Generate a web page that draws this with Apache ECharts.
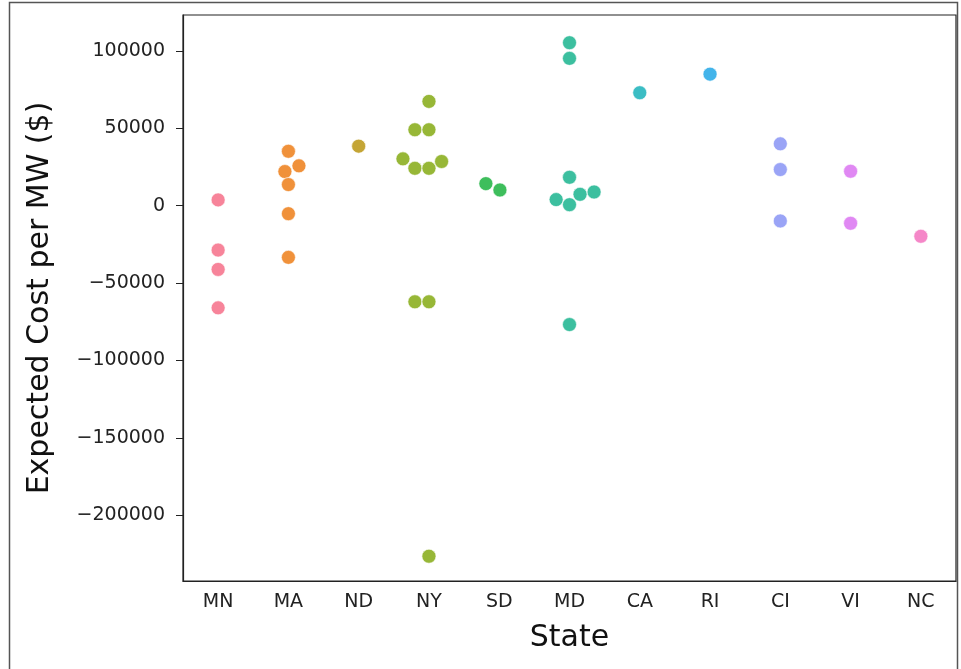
<!DOCTYPE html>
<html>
<head>
<meta charset="utf-8">
<script src="https://cdn.jsdelivr.net/npm/echarts@6/dist/echarts.min.js"></script>
<style>
  html, body { margin: 0; padding: 0; background: #fff; }
  #chart { width: 961px; height: 669px; }
</style>
</head>
<body>
<div id="chart"></div>
<script>
// states on the x axis
var states = ['MN', 'MA', 'ND', 'NY', 'SD', 'MD', 'CA', 'RI', 'CI', 'VI', 'NC'];
var stateColors = ['#f7849a', '#f0913a', '#c4a535', '#97b737', '#3ebe5c', '#3cbf9f',
                   '#3bbdc4', '#43b4ea', '#9aa4f6', '#e088f3', '#f587c8'];

// expected cost per MW, one list per state
var costMN = [3700, -28700, -41200, -66000];
var costMA = [35100, 25700, 22000, 13600, -5200, -33400];
var costND = [38400];
var costNY = [67300, 49000, 49000, 30200, 24100, 24100, 28500, -62100, -62100, -226400];
var costSD = [14200, 10100];
var costMD = [105200, 95100, 18300, 3900, 600, 7300, 8800, -76800];
var costCA = [72900];
var costRI = [84900];
var costCI = [39900, 23300, -9900];
var costVI = [22200, -11400];
var costNC = [-19800];

// swarm offsets (in category widths), same order as the lists above
var swarmMN = [0, 0, 0, 0];
var swarmMA = [0, 0.15, -0.05, 0, 0, 0];
var swarmND = [0];
var swarmNY = [0, -0.2, 0, -0.37, -0.2, 0, 0.18, -0.2, 0, 0];
var swarmSD = [-0.19, 0.01];
var swarmMD = [0, 0, 0, -0.19, 0, 0.15, 0.35, 0];
var swarmCA = [0];
var swarmRI = [0];
var swarmCI = [0, 0, 0];
var swarmVI = [0, 0];
var swarmNC = [0];

var yTicks = [-200000, -150000, -100000, -50000, 0, 50000, 100000];

var costs = [costMN, costMA, costND, costNY, costSD, costMD, costCA, costRI, costCI, costVI, costNC];
var swarms = [swarmMN, swarmMA, swarmND, swarmNY, swarmSD, swarmMD, swarmCA, swarmRI, swarmCI, swarmVI, swarmNC];

var series = states.map(function (s, i) {
    return {
        name: s,
        type: 'scatter',
        xAxisIndex: 1,
        symbolSize: 14,
        itemStyle: { color: stateColors[i], borderColor: '#ffffff', borderWidth: 0.6, opacity: 1 },
        data: costs[i].map(function (v, j) { return [i + swarms[i][j], v]; })
    };
});

var fmt = function (v) { return String(v).replace('-', '\u2212'); };

var myChart = echarts.init(document.getElementById('chart'));
var option = {
    animation: false,
    textStyle: { fontFamily: 'DejaVu Sans' },
    grid: {
        left: 183, right: 5, top: 15, bottom: 88,
        show: true, borderColor: '#222', borderWidth: 1.2, backgroundColor: 'transparent'
    },
    graphic: [{
        type: 'rect',
        shape: { x: 9.5, y: 2.5, width: 948, height: 700 },
        style: { fill: 'none', stroke: '#555', lineWidth: 1.5 },
        silent: true
    }],
    xAxis: [{
        type: 'category',
        data: states,
        boundaryGap: true,
        name: 'State',
        nameLocation: 'middle',
        nameGap: 42,
        nameTextStyle: { fontSize: 30, color: '#111', fontFamily: 'DejaVu Sans' },
        axisLine: { onZero: false, lineStyle: { color: '#222', width: 1.2 } },
        axisTick: { alignWithLabel: true, length: 7, lineStyle: { color: '#222' } },
        axisLabel: { fontSize: 19, color: '#222', margin: 12 },
        splitLine: { show: false }
    }, {
        type: 'value',
        min: -0.5,
        max: 10.5,
        show: false
    }],
    yAxis: {
        type: 'value',
        min: -242400,
        max: 123100,
        name: 'Expected Cost per MW ($)',
        nameLocation: 'middle',
        nameGap: 128,
        nameTextStyle: { fontSize: 30, color: '#111', fontFamily: 'DejaVu Sans' },
        axisLine: { show: true, onZero: false, lineStyle: { color: '#222', width: 1.2 } },
        axisTick: { show: true, length: 7, lineStyle: { color: '#222' }, customValues: yTicks },
        axisLabel: { fontSize: 19, color: '#222', margin: 18, formatter: fmt, customValues: yTicks },
        splitLine: { show: false }
    },
    series: series
};
myChart.setOption(option);
</script>
</body>
</html>
